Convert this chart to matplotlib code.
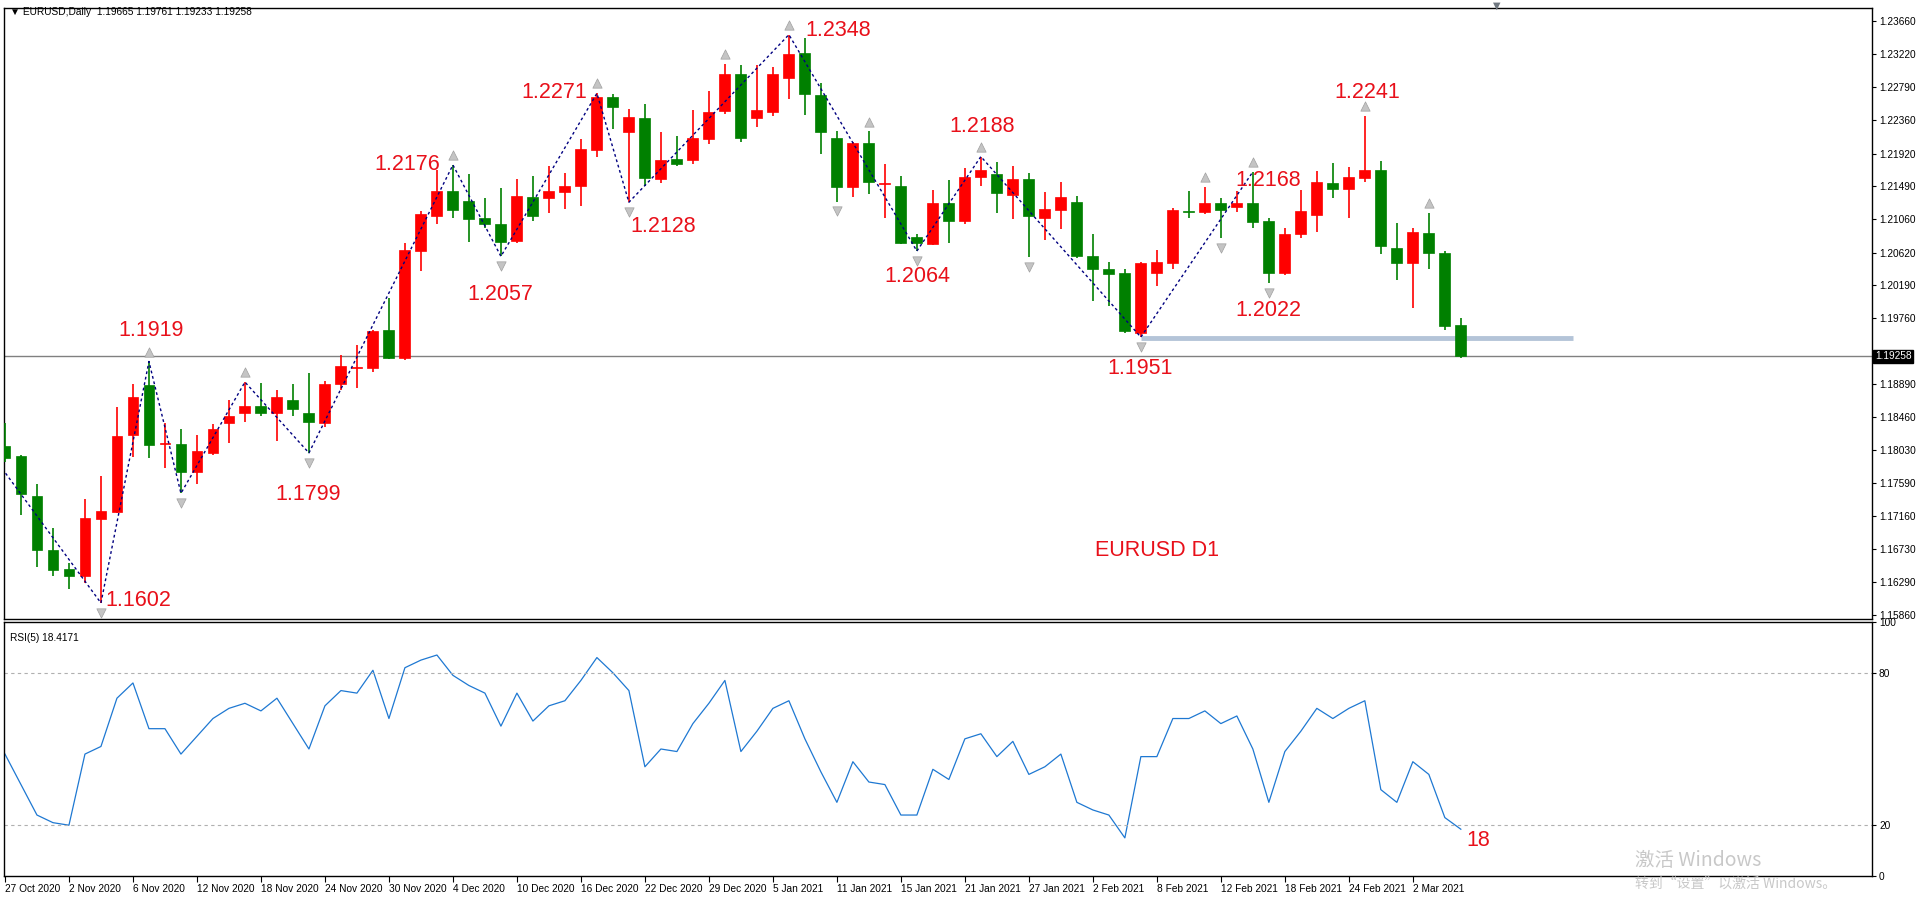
import matplotlib
matplotlib.use("Agg")
import matplotlib.pyplot as plt
import numpy as np

opens = [1.1808,1.1795,1.1743,1.1672,1.1646,1.1638,1.1712,1.1721,1.1822,1.1888,1.1811,1.1811,1.1774,1.1799,1.1838,1.1851,1.1860,1.1851,1.1868,1.1852,
         1.1838,1.1889,1.1910,1.1910,1.1960,1.1923,1.2064,1.2110,1.2143,1.2130,1.2107,1.2100,1.2077,1.2135,1.2133,1.2141,1.2149,1.2196,1.2266,1.2220,
         1.2238,1.2158,1.2185,1.2183,1.2211,1.2248,1.2296,1.2238,1.2246,1.2291,1.2324,1.2269,1.2213,1.2148,1.2206,1.2152,1.2150,1.2082,1.2073,1.2127,
         1.2103,1.2161,1.2165,1.2137,1.2158,1.2107,1.2118,1.2129,1.2058,1.2041,1.2035,1.1956,1.2035,1.2048,1.2117,1.2115,1.2127,1.2122,1.2127,1.2104,
         1.2035,1.2087,1.2111,1.2153,1.2146,1.2160,1.2170,1.2068,1.2048,1.2088,1.2061,1.19665]
highs = [1.1838,1.1796,1.1758,1.1701,1.1654,1.1738,1.1769,1.1859,1.1889,1.1919,1.1838,1.1831,1.1822,1.1837,1.1868,1.1892,1.1891,1.1881,1.1889,1.1904,
         1.1894,1.1928,1.1941,1.1960,1.2002,1.2074,1.2117,1.2170,1.2177,1.2165,1.2133,1.2147,1.2158,1.2162,1.2175,1.2167,1.2211,1.2271,1.2270,1.2251,
         1.2257,1.2220,1.2215,1.2249,1.2274,1.2309,1.2308,1.2308,1.2305,1.2348,1.2343,1.2284,1.2221,1.2207,1.2221,1.2178,1.2162,1.2087,1.2144,1.2157,
         1.2173,1.2188,1.2181,1.2175,1.2167,1.2141,1.2154,1.2136,1.2087,1.2049,1.2041,1.2049,1.2065,1.2120,1.2143,1.2148,1.2133,1.2143,1.2168,1.2107,
         1.2094,1.2144,1.2169,1.2179,1.2174,1.2241,1.2182,1.2101,1.2094,1.2114,1.2064,1.19761]
lows = [1.1787,1.1717,1.1649,1.1638,1.1621,1.1628,1.1602,1.1720,1.1793,1.1792,1.1779,1.1746,1.1758,1.1796,1.1812,1.1840,1.1848,1.1814,1.1848,1.1799,
        1.1833,1.1881,1.1884,1.1905,1.1922,1.1921,1.2038,1.2099,1.2108,1.2076,1.2094,1.2057,1.2074,1.2103,1.2114,1.2119,1.2123,1.2187,1.2224,1.2128,
        1.2150,1.2153,1.2175,1.2178,1.2204,1.2244,1.2207,1.2227,1.2241,1.2263,1.2242,1.2192,1.2129,1.2135,1.2139,1.2108,1.2073,1.2064,1.2072,1.2074,
        1.2100,1.2149,1.2114,1.2106,1.2056,1.2078,1.2093,1.2055,1.1999,1.1992,1.1956,1.1951,1.2018,1.2041,1.2108,1.2112,1.2081,1.2115,1.2094,1.2022,
        1.2032,1.2081,1.2089,1.2133,1.2107,1.2154,1.2060,1.2026,1.1989,1.2040,1.1960,1.19233]
closes = [1.1792,1.1745,1.1672,1.1645,1.1638,1.1714,1.1723,1.1821,1.1873,1.1810,1.1812,1.1774,1.1802,1.1831,1.1848,1.1860,1.1851,1.1873,1.1857,1.1839,
          1.1889,1.1913,1.1912,1.1959,1.1923,1.2066,1.2112,1.2143,1.2118,1.2106,1.2099,1.2076,1.2136,1.2110,1.2143,1.2149,1.2198,1.2266,1.2253,1.2240,
          1.2160,1.2183,1.2178,1.2213,1.2246,1.2296,1.2213,1.2249,1.2296,1.2322,1.2270,1.2220,1.2148,1.2206,1.2154,1.2153,1.2074,1.2074,1.2127,1.2103,
          1.2161,1.2170,1.2140,1.2158,1.2110,1.2119,1.2135,1.2057,1.2041,1.2034,1.1959,1.2048,1.2049,1.2118,1.2115,1.2127,1.2118,1.2127,1.2102,1.2035,
          1.2087,1.2116,1.2154,1.2146,1.2161,1.2170,1.2070,1.2048,1.2089,1.2061,1.1965,1.19258]
rsi = [48,36,24,21,20,48,51,70,76,58,58,48,55,62,66,68,65,70,60,50,
       67,73,72,81,62,82,85,87,79,75,72,59,72,61,67,69,77,86,80,73,
       43,50,49,60,68,77,49,57,66,69,54,41,29,45,37,36,24,24,42,38,
       54,56,47,53,40,43,48,29,26,24,15,47,47,62,62,65,60,63,50,29,
       49,57,66,62,66,69,34,29,45,40,23,18.4171]

date_labels = ["27 Oct 2020","2 Nov 2020","6 Nov 2020","12 Nov 2020","18 Nov 2020","24 Nov 2020","30 Nov 2020",
               "4 Dec 2020","10 Dec 2020","16 Dec 2020","22 Dec 2020","29 Dec 2020","5 Jan 2021","11 Jan 2021",
               "15 Jan 2021","21 Jan 2021","27 Jan 2021","2 Feb 2021","8 Feb 2021","12 Feb 2021","18 Feb 2021",
               "24 Feb 2021","2 Mar 2021"]
date_bars = list(range(0, 89, 4))

zz_bars = [-1,6,9,11,15,19,28,31,37,39,49,57,61,71,78]
zz_prices = [1.1802,1.1602,1.1919,1.1746,1.1892,1.1799,1.2177,1.2057,1.2271,1.2128,1.2348,1.2064,1.2188,1.1951,1.2168]
frac_up = [9,15,28,37,45,49,54,61,75,78,85,89]
frac_dn = [6,11,19,31,39,52,57,64,71,76,79]

price_ticks = [1.23660,1.23220,1.22790,1.22360,1.21920,1.21490,1.21060,1.20620,1.20190,1.19760,
               1.18890,1.18460,1.18030,1.17590,1.17160,1.16730,1.16290,1.15860]
last_price = 1.19258
support = 1.1950

W, H = 1920, 900
SMALL = ["Liberation Sans", "DejaVu Sans"]
FS = 7.3
fig = plt.figure(figsize=(19.2, 9), dpi=100)
fig.patch.set_facecolor("white")
ax = fig.add_axes([4/W, 1-619/H, 1868/W, 611/H])
ax2 = fig.add_axes([4/W, 1-876/H, 1868/W, 254/H])

n = len(opens)
x = np.arange(n)
for i in range(n):
    up = closes[i] >= opens[i]
    col = "#FF0000" if up else "#008000"
    ax.vlines(i, lows[i], highs[i], color=col, lw=1.2, zorder=3)
    b0, b1 = min(opens[i], closes[i]), max(opens[i], closes[i])
    hgt = max(b1 - b0, 0.00012)
    ax.add_patch(plt.Rectangle((i-0.34, b0), 0.68, hgt, facecolor=col, edgecolor=col, lw=0.5, zorder=4))

ax.plot(zz_bars, zz_prices, color="#000080", lw=1, ls=(0, (2, 2)), zorder=5)
ax.scatter(frac_up, [highs[i]+0.0013 for i in frac_up], marker="^", s=45, color="#c4c4c4", edgecolors="#a0a0a0", lw=0.5, zorder=6)
ax.scatter(frac_dn, [lows[i]-0.0013 for i in frac_dn], marker="v", s=45, color="#c4c4c4", edgecolors="#a0a0a0", lw=0.5, zorder=6)

ax.axhline(last_price, color="#808080", lw=1, zorder=2)
ax.hlines(support, 71, 98, color="#b4c4d8", lw=3.5, zorder=2)

ax.set_xlim(-0.06, 116.7)
ax.set_ylim(1.1581, 1.2383)
ax.yaxis.tick_right()
ax.set_yticks(price_ticks)
ax.set_yticklabels([f"{v:.5f}" for v in price_ticks], fontsize=FS, family=SMALL)
ax.tick_params(axis="y", length=3, pad=2)
ax.set_xticks([])
ax.text(1.0015, (last_price-1.1581)/(1.2383-1.1581), f"{last_price:.5f}", transform=ax.transAxes,
        fontsize=FS, family=SMALL, color="white", va="center", ha="left",
        bbox=dict(boxstyle="square,pad=0.15", facecolor="black", edgecolor="black"))
for s in ax.spines.values():
    s.set_color("black"); s.set_linewidth(1)

ax2.plot(x, rsi, color="#1E78D2", lw=0.9)
ax2.axhline(80, color="#b0b0b0", lw=0.8, ls=(0, (3, 3)))
ax2.axhline(20, color="#b0b0b0", lw=0.8, ls=(0, (3, 3)))
ax2.set_xlim(-0.06, 116.7)
ax2.set_ylim(0, 100)
ax2.yaxis.tick_right()
ax2.set_yticks([0, 20, 80, 100])
ax2.set_yticklabels(["0", "20", "80", "100"], fontsize=FS, family=SMALL)
ax2.tick_params(axis="y", length=3, pad=2)
ax2.set_xticks(date_bars)
ax2.set_xticklabels(date_labels, fontsize=FS, family=SMALL, ha="left")
ax2.tick_params(axis="x", length=4, pad=2)
for s in ax2.spines.values():
    s.set_color("black"); s.set_linewidth(1)

def ft(px, py, s, **kw):
    fig.text(px/W, 1-py/H, s, **kw)

red = dict(color="#E8101A", fontsize=15.5, family="Liberation Sans", ha="center", va="center")
for px, py, s in [(151,331,"1.1919"),(138,600,"1.1602"),(308,494,"1.1799"),(407,164,"1.2176"),
                  (500,295,"1.2057"),(554,92,"1.2271"),(663,227,"1.2128"),(838,31,"1.2348"),
                  (982,127,"1.2188"),(917,276,"1.2064"),(1268,180,"1.2168"),(1268,310,"1.2022"),
                  (1367,93,"1.2241"),(1140,369,"1.1951"),(1157,550,"EURUSD D1"),(1478,841,"18")]:
    ft(px, py, s, **red)

ft(10, 12, "\u25bc EURUSD,Daily  1.19665 1.19761 1.19233 1.19258", fontsize=FS, family=SMALL + ["DejaVu Sans"], va="center", ha="left")
ft(10, 638, "RSI(5) 18.4171", fontsize=FS, family=SMALL, va="center", ha="left")
ft(1497, 6, "\u25bc", fontsize=7, color="#707880", ha="center", va="center")
ft(1635, 860, "激活 Windows", fontsize=14, color="#c8c8c8", family=["Noto Sans CJK SC", "DejaVu Sans"], va="center", ha="left")
ft(1635, 884, "转到“设置”以激活 Windows。", fontsize=10, color="#c8c8c8", family=["Noto Sans CJK SC", "DejaVu Sans"], va="center", ha="left")

fig.savefig("out.png", dpi=100, facecolor="white")
